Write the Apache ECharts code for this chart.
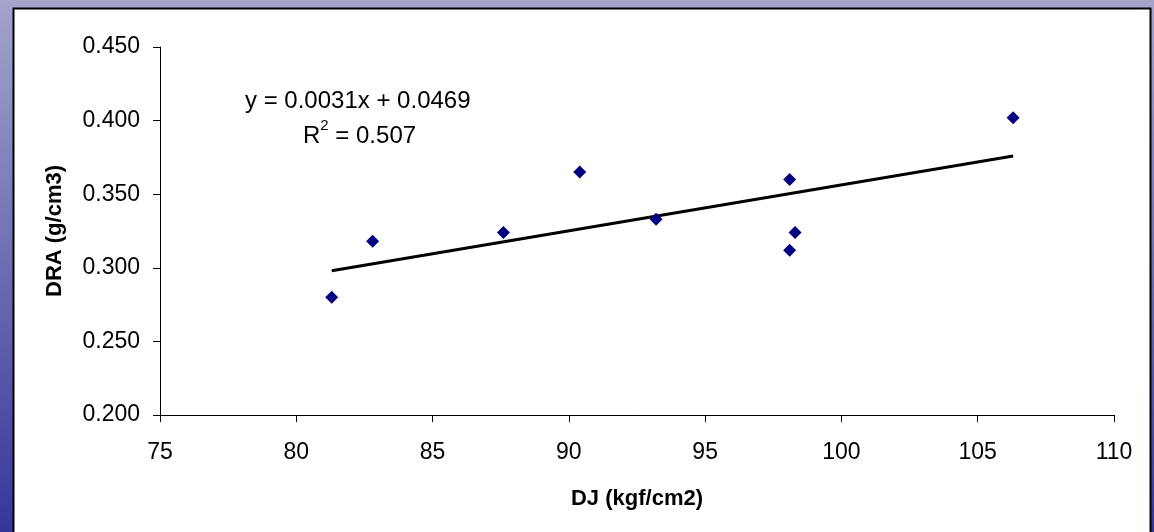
<!DOCTYPE html>
<html>
<head>
<meta charset="utf-8">
<script src="https://cdn.jsdelivr.net/npm/echarts@6/dist/echarts.min.js"></script>
<style>
html,body{margin:0;padding:0;}
#chart{width:1154px;height:532px;}
</style>
</head>
<body>
<div id="chart"></div>
<script>
// Data
const djValues = [81.3, 82.8, 87.6, 90.4, 93.2, 98.1, 98.1, 98.3, 106.3];
const draValues = [0.280, 0.318, 0.324, 0.365, 0.333, 0.360, 0.312, 0.324, 0.402];
const trendX = [81.3, 106.3];
const trendY = [0.298, 0.376];
const yTickDecimals = 3;
const equationText = 'y = 0.0031x + 0.0469';
const r2Value = '0.507';
const xName = 'DJ (kgf/cm2)';
const yName = 'DRA (g/cm3)';

const scatterData = djValues.map((x, i) => [x, draValues[i]]);
const trendData = trendX.map((x, i) => [x, trendY[i]]);

const FONT = '"Liberation Sans", Arial, sans-serif';
const chart = echarts.init(document.getElementById('chart'));
chart.setOption({
  animation: false,
  backgroundColor: {
    type: 'linear', x: 0, y: 0, x2: 0, y2: 1,
    colorStops: [
      {offset: 0, color: '#A4A4CC'},
      {offset: 1, color: '#36369A'}
    ]
  },
  textStyle: {fontFamily: FONT},
  graphic: [
    {
      type: 'rect', z: -10, silent: true,
      shape: {x: 13.5, y: 8.5, width: 1137, height: 540},
      style: {fill: '#ffffff', stroke: '#000000', lineWidth: 2}
    },
    {
      type: 'text', z: 100, left: 245, top: 89,
      style: {text: equationText, font: '24px ' + FONT, fill: '#000'}
    },
    {
      type: 'text', z: 100, left: 303, top: 118,
      style: {
        text: '{a|R}{s|2}{a| = ' + r2Value + '}',
        fill: '#000',
        rich: {
          a: {fontSize: 24, fontFamily: FONT, color: '#000', verticalAlign: 'bottom', lineHeight: 30},
          s: {fontSize: 15, fontFamily: FONT, color: '#000', verticalAlign: 'top', lineHeight: 30}
        }
      }
    }
  ],
  grid: {left: 160, right: 40, top: 47, bottom: 117, containLabel: false},
  xAxis: {
    type: 'value', min: 75, max: 110, interval: 5,
    name: xName, nameLocation: 'middle', nameGap: 73,
    nameTextStyle: {fontSize: 22, fontWeight: 'bold', color: '#000', fontFamily: FONT},
    axisLine: {show: true, lineStyle: {color: '#000', width: 1}},
    axisTick: {show: true, inside: false, length: 7, lineStyle: {color: '#000'}},
    axisLabel: {fontSize: 23, color: '#000', margin: 26, fontFamily: FONT},
    splitLine: {show: false}
  },
  yAxis: {
    type: 'value', min: 0.2, max: 0.45, interval: 0.05,
    name: yName, nameLocation: 'middle', nameGap: 94,
    nameTextStyle: {fontSize: 22, fontWeight: 'bold', color: '#000', fontFamily: FONT},
    axisLine: {show: true, lineStyle: {color: '#000', width: 1}},
    axisTick: {show: true, inside: false, length: 7, lineStyle: {color: '#000'}},
    axisLabel: {fontSize: 23, color: '#000', margin: 20, fontFamily: FONT,
      formatter: v => v.toFixed(yTickDecimals)},
    splitLine: {show: false}
  },
  series: [
    {
      type: 'line', data: trendData, symbol: 'none', z: 3,
      lineStyle: {color: '#000', width: 3}
    },
    {
      type: 'scatter', data: scatterData, symbol: 'diamond', symbolSize: 13, z: 4,
      itemStyle: {color: '#000080', opacity: 1}
    }
  ]
});
</script>
</body>
</html>
